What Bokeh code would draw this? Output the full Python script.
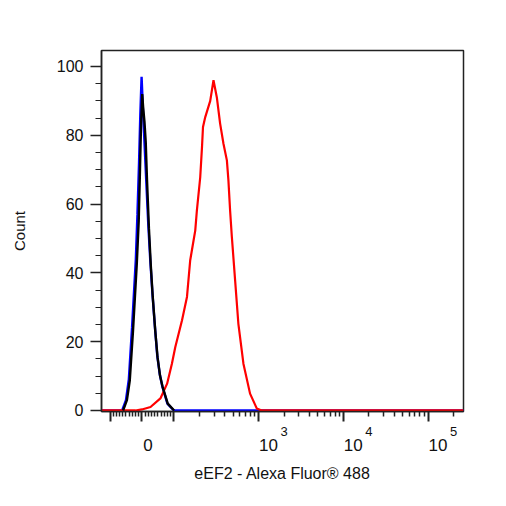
import numpy as np
from bokeh.plotting import figure
from bokeh.models import FixedTicker, SingleIntervalTicker, LinearAxis, Range1d
from bokeh.embed import file_html
from bokeh.resources import INLINE

# ---------------- data (fluorescence intensity, count) ----------------
blue_intensity = [-126, -62, -50, -41, -31, -19, -14, -9, -5, -1, 3, 7, 11, 15, 20, 26, 33, 41, 48, 56, 64, 80, 100, 262144]
blue_count     = [0, 0, 3, 9, 24, 44, 57, 72, 86, 97, 88, 80, 72, 64, 54, 44, 34, 24, 16, 10.5, 7, 2, 0, 0]

black_intensity = [-59, -47, -38, -28, -16, -10, -6, -3, 1, 4, 8, 12, 16, 22, 28, 34, 42, 49, 57, 65, 81, 101]
black_count     = [0, 3, 8.7, 23, 42.7, 55, 70, 82, 92, 88, 84, 78, 67, 53, 42, 33, 23, 15.5, 10, 6.8, 2, 0]

red_intensity = [-126, -20, 0, 27, 58, 79, 94, 104, 125, 143, 156, 171, 179, 187, 205, 215, 221, 235, 269,
                 294, 322, 352, 385, 423, 441, 462, 484, 529, 578, 663, 794, 952, 1090, 262144]
red_count     = [0, 0, 0.3, 1, 3.5, 7.8, 13.6, 18.4, 26.2, 33, 43.6, 49.4, 52.3, 58, 67.8, 76.5, 82.4, 85.3, 90,
                 96, 91, 83.4, 77.6, 72.7, 66.9, 58, 50.5, 37.8, 25.2, 13.6, 4.9, 0.6, 0, 0]

x_major_ticks = [-100, 0, 100, 1000, 10000, 100000]
x_minor_ticks = ([-v for v in range(10, 100, 10)] + list(range(10, 100, 10)) +
                 list(range(200, 1000, 100)) + list(range(2000, 10000, 1000)) +
                 list(range(20000, 100000, 10000)) + [200000])
x_label_values = [0, 1000, 10000, 100000]
x_label_bases = ["0", "10", "10", "10"]
x_label_exponents = ["", "3", "4", "5"]
x_limits = (-126, 262144)

y_limits = (-0.3, 104.65)
y_tick_interval = 20

x_title = "eEF2 - Alexa Fluor® 488"
y_title = "Count"

FONT = "Liberation Sans"
TEXT = "#111111"
AXIS = "#222222"


# biexponential-like display transform (linear near zero, log above 100)
def biex(v):
    v = np.asarray(v, dtype=float)
    a = np.abs(v)
    lin = a * 0.32
    lg = 32 + 85 * np.log10(np.maximum(a, 100) / 100)
    return np.sign(v) * np.where(a <= 100, lin, lg)


W, H = 506, 506
BL, BR, BT, BB = 101, 43, 50, 95
frame_w = W - BL - BR

x0, x1 = float(biex(x_limits[0])), float(biex(x_limits[1]))
units_per_px_x = (x1 - x0) / frame_w

p = figure(width=W, height=H, output_backend="svg", toolbar_location=None,
           x_range=Range1d(x0, x1), y_range=Range1d(*y_limits),
           min_border_left=BL, min_border_right=BR, min_border_top=BT, min_border_bottom=BB)

p.grid.visible = False
p.outline_line_color = AXIS
p.outline_line_width = 1.5
p.background_fill_color = "white"
p.border_fill_color = "white"

p.line(biex(blue_intensity), blue_count, line_color="#0000ff", line_width=2.4)
p.line(biex(red_intensity), red_count, line_color="#ff0000", line_width=2.2)
p.line(biex(black_intensity), black_count, line_color="#000000", line_width=2.4)

# ---- x axis: ticks only ----
xa = p.xaxis[0]
maj = [float(t) for t in biex(x_major_ticks)]
xa.ticker = FixedTicker(ticks=maj, minor_ticks=[float(t) for t in biex(x_minor_ticks)])
xa.major_label_overrides = {t: "" for t in maj}
xa.major_label_text_font_size = "0px"
xa.major_label_standoff = 0
xa.major_tick_out = 10
xa.major_tick_in = 0
xa.minor_tick_out = 5
xa.minor_tick_in = 0
xa.major_tick_line_width = 2
xa.minor_tick_line_width = 1.5
xa.major_tick_line_color = AXIS
xa.minor_tick_line_color = AXIS
xa.axis_line_width = 1.5
xa.axis_line_color = AXIS


def text_axis(offsets, texts, size, standoff, title=None):
    pos = [float(biex(v)) + o * units_per_px_x for v, o, t in zip(x_label_values, offsets, texts) if t]
    txt = [t for t in texts if t]
    ax = LinearAxis(ticker=FixedTicker(ticks=pos, minor_ticks=[]))
    ax.major_label_overrides = {k: s for k, s in zip(pos, txt)}
    ax.axis_line_color = None
    ax.major_tick_line_color = None
    ax.minor_tick_line_color = None
    ax.major_tick_out = 0
    ax.minor_tick_out = 0
    ax.major_label_text_font = FONT
    ax.major_label_text_font_size = size
    ax.major_label_text_color = TEXT
    ax.major_label_standoff = standoff
    if title:
        ax.axis_label = title
        ax.axis_label_text_font = FONT
        ax.axis_label_text_font_size = "16px"
        ax.axis_label_text_font_style = "normal"
        ax.axis_label_text_color = TEXT
        ax.axis_label_standoff = 11
    p.add_layout(ax, "below")
    return ax


# superscript exponents, then the "0"/"10" bases together with the axis title
text_axis([25.5, 25.5, 25.5, 25.5], x_label_exponents, "13px", 5)
text_axis([6, 10, 10, 10], x_label_bases, "17px", 0, title=x_title)

# ---- y axis ----
ya = p.yaxis[0]
ya.ticker = SingleIntervalTicker(interval=y_tick_interval, num_minor_ticks=4)
ya.major_tick_out = 11
ya.major_tick_in = 0
ya.minor_tick_out = 6
ya.minor_tick_in = 0
ya.major_tick_line_width = 1.5
ya.minor_tick_line_width = 1.2
ya.major_tick_line_color = AXIS
ya.minor_tick_line_color = AXIS
ya.axis_line_width = 1.5
ya.axis_line_color = AXIS
ya.major_label_text_font = FONT
ya.major_label_text_font_size = "16px"
ya.major_label_text_color = TEXT
ya.major_label_standoff = 7
ya.axis_label = y_title
ya.axis_label_text_font = FONT
ya.axis_label_text_font_size = "15px"
ya.axis_label_text_font_style = "normal"
ya.axis_label_text_color = TEXT
ya.axis_label_standoff = 26

open("out.html", "w").write(file_html(p, INLINE))
